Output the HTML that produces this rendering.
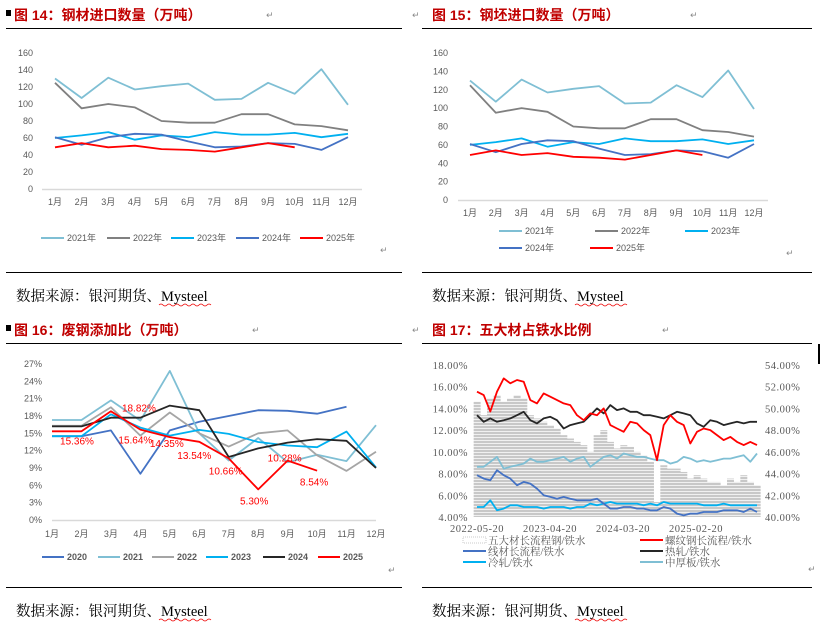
<!DOCTYPE html>
<html><head><meta charset="utf-8"><style>
html,body{margin:0;padding:0;background:#fff;}
svg{display:block;}
.t{font-family:"Liberation Sans","Noto Sans CJK SC",sans-serif;font-size:14px;font-weight:bold;fill:#c00000;}
.src{font-family:"Liberation Serif","Noto Serif CJK SC",serif;font-size:14.5px;fill:#000;}
.ax{font-family:"Liberation Sans","Noto Sans CJK SC",sans-serif;font-size:9px;fill:#595959;}
.ax2{font-family:"Liberation Serif","Noto Serif CJK SC",serif;font-size:10.5px;fill:#595959;letter-spacing:0.5px;}
.lg{font-family:"Liberation Sans","Noto Sans CJK SC",sans-serif;font-size:9px;fill:#595959;}
.lg2{font-family:"Liberation Serif","Noto Serif CJK SC",serif;font-size:10.5px;fill:#595959;}
.dl{font-family:"Liberation Sans",sans-serif;font-size:10px;fill:#ff0000;}
.ret{font-family:"DejaVu Sans",sans-serif;font-size:9px;fill:#888;}
</style></head><body>
<svg id="s" width="820" height="622" xmlns="http://www.w3.org/2000/svg">
<defs>
<pattern id="barpat" width="4" height="3" patternUnits="userSpaceOnUse">
<rect width="4" height="3" fill="#c8c8c8"/><rect y="2" width="4" height="1" fill="#f0f0f0"/>
</pattern>
</defs>
<rect x="6" y="10" width="5" height="6" fill="#000"/>
<text class="t" x="14" y="20">图 14：钢材进口数量（万吨）</text>
<text class="t" x="432" y="20">图 15：钢坯进口数量（万吨）</text>
<rect x="6" y="325" width="5" height="6" fill="#000"/>
<text class="t" x="14" y="335">图 16：废钢添加比（万吨）</text>
<text class="t" x="432" y="335">图 17：五大材占铁水比例</text>
<text class="ret" x="266" y="18">↵</text>
<text class="ret" x="690" y="18">↵</text>
<text class="ret" x="252" y="333">↵</text>
<text class="ret" x="662" y="333">↵</text>
<text class="ret" x="380" y="253">↵</text>
<text class="ret" x="786" y="256">↵</text>
<text class="ret" x="388" y="573">↵</text>
<text class="ret" x="808" y="572">↵</text>
<text class="ret" x="412" y="18">↵</text>
<text class="ret" x="412" y="333">↵</text>
<rect x="818" y="344" width="2" height="20" fill="#000"/>
<line x1="6" y1="28.5" x2="402" y2="28.5" stroke="#000"/>
<line x1="422" y1="28.5" x2="812" y2="28.5" stroke="#000"/>
<line x1="6" y1="272.5" x2="402" y2="272.5" stroke="#000"/>
<line x1="422" y1="272.5" x2="812" y2="272.5" stroke="#000"/>
<line x1="6" y1="343.5" x2="402" y2="343.5" stroke="#000"/>
<line x1="422" y1="343.5" x2="812" y2="343.5" stroke="#000"/>
<line x1="6" y1="587.5" x2="402" y2="587.5" stroke="#000"/>
<line x1="422" y1="587.5" x2="812" y2="587.5" stroke="#000"/>
<text class="src" x="16" y="301">数据来源：银河期货、Mysteel</text>
<text class="src" x="432" y="301">数据来源：银河期货、Mysteel</text>
<text class="src" x="16" y="616">数据来源：银河期货、Mysteel</text>
<text class="src" x="432" y="616">数据来源：银河期货、Mysteel</text>
<path d="M159 305 q2 -2 4 0 t4 0 t4 0 t4 0 t4 0 t4 0 t4 0 t4 0 t4 0 t4 0 t4 0 t4 0 t4 0" stroke="#e00" fill="none" stroke-width="0.8"/>
<path d="M575 305 q2 -2 4 0 t4 0 t4 0 t4 0 t4 0 t4 0 t4 0 t4 0 t4 0 t4 0 t4 0 t4 0 t4 0" stroke="#e00" fill="none" stroke-width="0.8"/>
<path d="M159 620 q2 -2 4 0 t4 0 t4 0 t4 0 t4 0 t4 0 t4 0 t4 0 t4 0 t4 0 t4 0 t4 0 t4 0" stroke="#e00" fill="none" stroke-width="0.8"/>
<path d="M575 620 q2 -2 4 0 t4 0 t4 0 t4 0 t4 0 t4 0 t4 0 t4 0 t4 0 t4 0 t4 0 t4 0 t4 0" stroke="#e00" fill="none" stroke-width="0.8"/>
</svg>
<script>
const months = ["1月","2月","3月","4月","5月","6月","7月","8月","9月","10月","11月","12月"];
const importYears = ["2021年","2022年","2023年","2024年","2025年"];
const imp2021 = [130,107,131,117,121,124,105,106,125,112,141,99];
const imp2022 = [125,95,100,96,80,78,78,88,88,76,74,69];
const imp2023 = [60,63,67,58,63,61,67,64,64,66,61,65];
const imp2024 = [61,52,61,65,64,56,49,50,54,53,46,61];
const imp2025 = [49,54,49,51,47,46,44,49,54,49];
const importTicks = [0,20,40,60,80,100,120,140,160];

const scrapYears = ["2020","2021","2022","2023","2024","2025"];
const scrap2020 = [14.5,14.5,15.5,8,15.5,17,18,19,18.9,18.4,19.6];
const scrap2021 = [17.3,17.3,20.7,17.2,25.8,15,10.3,14.2,10,11.3,10.2,16.4];
const scrap2022 = [16.3,16.3,19.5,14.6,18.6,15,12.7,15,15.5,11.2,8.5,11.8];
const scrap2023 = [14.5,14.5,18.3,16,14.6,15.6,14.9,13.5,12.9,12.6,15.3,9.1];
const scrap2024 = [16.2,16.2,17.7,17.7,19.8,19,10.9,12.4,13.4,14,13.7,9];
const scrap2025 = [15.36,15.36,18.82,15.64,14.35,13.54,10.66,5.30,10.28,8.54];
const scrapTicks = [0,3,6,9,12,15,18,21,24,27];

const ratioDates = ["2022-05-20","2023-04-20","2024-03-20","2025-02-20"];
const ratioLeftTicks = [4,6,8,10,12,14,16,18];
const ratioRightTicks = [40,42,44,46,48,50,52,54];
const barLong = [50.62,49.38,50.92,51.23,50.62,50.92,51.23,50.92,49.38,49.08,48.77,48.46,48.15,47.54,47.23,46.92,46.62,46.0,47.54,48.0,46.92,46.31,46.62,46.46,46.0,45.69,45.08,41.38,44.77,44.46,44.46,44.15,43.54,43.85,43.54,43.23,43.23,42.92,43.54,43.23,43.85,43.23,42.92];
const rebarRatio = [15.54,15.23,13.72,15.54,16.77,16.31,16.62,16.46,14.77,14.46,15.38,15.08,14.77,14.46,14.31,13.38,12.92,13.54,13.38,14.0,12.46,12.15,11.85,12.77,12.62,12.0,11.54,9.23,12.46,13.38,12.77,12.46,10.77,11.85,12.15,12.0,11.54,11.08,11.38,10.92,10.62,10.92,10.62];
const hotRatio = [13.38,12.77,13.08,12.77,12.92,13.08,13.38,13.69,12.92,12.62,13.08,13.23,12.92,12.15,12.46,12.62,12.77,13.38,14.0,13.54,14.31,13.85,14.0,13.69,13.69,13.38,13.38,13.23,13.08,13.38,13.69,13.54,13.38,12.62,12.31,12.92,12.77,12.46,12.62,12.77,12.62,12.77,12.77];
const plateRatio = [8.62,8.62,9.08,9.54,8.46,8.62,8.77,8.92,9.38,9.08,9.08,9.23,9.38,9.54,9.08,9.38,9.54,8.62,9.08,9.54,9.69,9.38,9.85,9.69,9.54,9.54,9.38,9.23,9.23,8.92,9.08,9.54,9.38,9.08,9.23,9.08,9.23,9.38,9.38,9.54,9.69,9.08,9.85];
const wireRatio = [7.85,7.54,7.38,8.31,7.85,7.54,6.92,7.23,7.08,6.62,6.0,5.85,5.69,5.85,5.69,5.54,5.54,5.54,5.69,5.23,4.77,4.77,4.92,4.92,4.77,4.77,4.62,4.62,4.92,4.77,4.31,4.15,4.31,4.31,4.46,4.46,4.46,4.62,4.62,4.62,4.46,4.77,4.46];
const coldRatio = [4.92,4.92,5.54,4.62,4.77,5.08,5.08,4.92,4.92,4.92,4.77,4.92,4.92,4.92,4.77,4.92,4.92,5.23,5.08,5.23,5.38,5.23,5.23,5.23,5.23,5.08,5.23,5.08,5.38,5.23,5.23,5.23,5.23,5.23,5.08,5.08,5.08,5.23,5.08,5.08,5.08,5.08,5.08];

const S = document.getElementById('s');
const NS = 'http://www.w3.org/2000/svg';
function mk(tag, attrs, txt){
  const e = document.createElementNS(NS, tag);
  for (const k in attrs) e.setAttribute(k, attrs[k]);
  if (txt !== undefined) e.textContent = txt;
  S.appendChild(e);
  return e;
}
function poly(n, xs, ys, color, w, name){
  let d = '';
  for (let i=0;i<n;i++) d += (i?'L':'M') + xs(i).toFixed(1) + ' ' + ys(i).toFixed(1);
  const p = mk('path', {d:d, fill:'none', stroke:color, 'stroke-width':w, 'stroke-linejoin':'round'});
  
  
  return p;
}

function importChart(x0, x1, yTop, yBot, lblX, axisX0, axisX1, prefix, legend){
  const xs = i => x0 + i*(x1-x0)/11;
  const ys = v => yBot - v*(yBot-yTop)/160;
  const base = mk('line', {x1:axisX0, y1:yBot+0.5, x2:axisX1, y2:yBot+0.5, stroke:'#d9d9d9', 'stroke-width':1.5});
  
  
  importTicks.forEach(t => {
    const e = mk('text', {class:'ax', x:lblX, y:ys(t)+3, 'text-anchor':'end'}, String(t));
    
    
  });
  months.forEach((m,i) => {
    const e = mk('text', {class:'ax', x:xs(i), y:yBot+16, 'text-anchor':'middle'}, m);
    
    
  });
  const series = [imp2021, imp2022, imp2023, imp2024, imp2025];
  const colors = ['#7fbfd4','#808080','#00b0f0','#4472c4','#ff0000'];
  series.forEach((arr,k) => poly(arr.length, xs, i => ys(arr[i]), colors[k], 1.8, prefix+'-line-'+importYears[k].replace('年','')));
  legend.forEach((L,k) => {
    const l = mk('line', {x1:L[0], y1:L[1], x2:L[0]+23, y2:L[1], stroke:colors[k], 'stroke-width':2});
    
    
    const t = mk('text', {class:'lg', x:L[0]+26, y:L[1]+3}, importYears[k]);
    
    
  });
}
importChart(55, 348, 53, 189, 33, 42, 362, 'chart14', [[41,238],[107,238],[171,238],[236,238],[300,238]]);
importChart(470, 754, 53, 200, 448, 458, 768, 'chart15', [[499,231],[595,231],[685,231],[499,248],[590,248]]);

(function(){
  const x0=52, x1=376, yTop=364, yBot=520;
  const xs = i => x0 + i*(x1-x0)/11;
  const ys = v => yBot - v*(yBot-yTop)/27;
  const base = mk('line', {x1:x0, y1:yBot+0.5, x2:x1, y2:yBot+0.5, stroke:'#d9d9d9', 'stroke-width':1.5});
  
  
  scrapTicks.forEach(t => {
    const e = mk('text', {class:'ax', x:42, y:ys(t)+3, 'text-anchor':'end'}, t+'%');
    
    
  });
  months.forEach((m,i) => {
    const e = mk('text', {class:'ax', x:xs(i), y:537, 'text-anchor':'middle'}, m);
    
    
  });
  const series = [scrap2020, scrap2021, scrap2022, scrap2023, scrap2024, scrap2025];
  const colors = ['#4472c4','#7fbfd4','#a5a5a5','#00b0f0','#262626','#ff0000'];
  series.forEach((arr,k) => poly(arr.length, xs, i => ys(arr[i]), colors[k], 1.8, 'chart16-line-'+scrapYears[k]));
  const off = [[25,10],null,[28,-3],[-5,11],[-3,7],[-5,14],[-3,13],[-4,12],[-3,-2],[-3,12]];
  scrap2025.forEach((v,i) => {
    if (!off[i]) return;
    const e = mk('text', {class:'dl', x:xs(i)+off[i][0], y:ys(v)+off[i][1]+3, 'text-anchor':'middle'}, v.toFixed(2)+'%');
    
    
  });
  const lx = [42,98,152,206,263,318];
  scrapYears.forEach((y,k) => {
    const l = mk('line', {x1:lx[k], y1:557, x2:lx[k]+22, y2:557, stroke:colors[k], 'stroke-width':2});
    
    
    const t = mk('text', {class:'lg', x:lx[k]+25, y:560, 'font-weight':'bold'}, y);
    
    
  });
})();

(function(){
  const x0=477, x1=757, yTop=365, yBot=517;
  const n = rebarRatio.length;
  const xs = i => x0 + i*(x1-x0)/(n-1);
  const yl = v => yBot - (v-4)*(yBot-yTop)/14;
  const yr = v => yBot - (v-40)*(yBot-yTop)/14;
  const bw = (x1-x0)/(n-1);
  barLong.forEach((v,i) => {
    const b = mk('rect', {x:xs(i)-bw/2, y:yr(v), width:bw+0.3, height:yBot-yr(v), fill:'url(#barpat)'});
    
    
  });
  ratioLeftTicks.forEach(t => {
    const e = mk('text', {class:'ax2', x:468, y:yl(t)+4, 'text-anchor':'end'}, t.toFixed(2)+'%');
    
    
  });
  ratioRightTicks.forEach(t => {
    const e = mk('text', {class:'ax2', x:765, y:yr(t)+4}, t.toFixed(2)+'%');
    
    
  });
  ratioDates.forEach((d,i) => {
    const e = mk('text', {class:'ax2', x:477+i*73, y:532, 'text-anchor':'middle'}, d);
    
    
  });
  poly(n, xs, i => yl(coldRatio[i]), '#00b0f0', 1.8, 'chart17-line-cold-rolled');
  poly(n, xs, i => yl(wireRatio[i]), '#4472c4', 1.8, 'chart17-line-wire');
  poly(n, xs, i => yl(plateRatio[i]), '#7fbfd4', 1.8, 'chart17-line-plate');
  poly(n, xs, i => yl(hotRatio[i]), '#262626', 1.8, 'chart17-line-hot-rolled');
  poly(n, xs, i => yl(rebarRatio[i]), '#ff0000', 1.8, 'chart17-line-rebar');
  const legend = [
    ['五大材长流程钢/铁水', 463, 540, null],
    ['螺纹钢长流程/铁水', 640, 540, '#ff0000'],
    ['线材长流程/铁水', 463, 551, '#4472c4'],
    ['热轧/铁水', 640, 551, '#262626'],
    ['冷轧/铁水', 463, 562, '#00b0f0'],
    ['中厚板/铁水', 640, 562, '#7fbfd4']
  ];
  legend.forEach(L => {
    let sw;
    if (L[3]) sw = mk('line', {x1:L[1], y1:L[2], x2:L[1]+23, y2:L[2], stroke:L[3], 'stroke-width':2});
    else sw = mk('rect', {x:L[1], y:L[2]-3, width:23, height:6, fill:'none', stroke:'#bbb', 'stroke-dasharray':'1 1', 'stroke-width':0.8});
    
    
    const t = mk('text', {class:'lg2', x:L[1]+25, y:L[2]+4}, L[0]);
    
    
  });
})();
</script>
</body></html>
